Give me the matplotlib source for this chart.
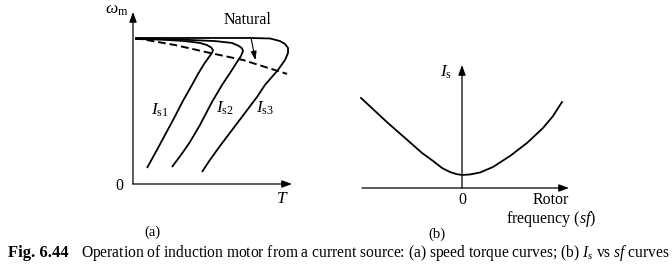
"""Speed-torque curves of an induction motor fed from a current source (Fig. 6.44)."""

import matplotlib
matplotlib.use("Agg")
import matplotlib.pyplot as plt

plt.rcParams["font.family"] = ["Liberation Serif", "DejaVu Serif"]
plt.rcParams["mathtext.fontset"] = "custom"
plt.rcParams["mathtext.rm"] = "Liberation Serif"
plt.rcParams["mathtext.it"] = "Liberation Serif:italic"

# (a) speed-torque curves, normalised T and omega_m
T_IS1 = [0.013, 0.170, 0.327, 0.421, 0.465, 0.491, 0.503, 0.497, 0.478, 0.447,
         0.409, 0.371, 0.314, 0.252, 0.201, 0.157, 0.119, 0.088]
W_IS1 = [0.843, 0.840, 0.831, 0.820, 0.808, 0.794, 0.779, 0.762, 0.738, 0.698,
         0.640, 0.576, 0.483, 0.372, 0.285, 0.209, 0.145, 0.093]
T_IS2 = [0.013, 0.296, 0.516, 0.623, 0.667, 0.686, 0.692, 0.679, 0.654, 0.610,
         0.560, 0.497, 0.421, 0.358, 0.302, 0.245]
W_IS2 = [0.843, 0.840, 0.831, 0.820, 0.802, 0.788, 0.773, 0.744, 0.709, 0.645,
         0.576, 0.477, 0.343, 0.244, 0.169, 0.099]
T_IS3 = [0.013, 0.421, 0.736, 0.862, 0.925, 0.956, 0.975, 0.975, 0.956, 0.912,
         0.830, 0.780, 0.704, 0.623, 0.547, 0.484, 0.434]
W_IS3 = [0.849, 0.849, 0.849, 0.846, 0.831, 0.814, 0.791, 0.762, 0.721, 0.663,
         0.576, 0.506, 0.413, 0.314, 0.221, 0.140, 0.070]
T_NAT = [0.013, 0.264, 0.484, 0.692, 0.969]
W_NAT = [0.849, 0.808, 0.762, 0.721, 0.640]

# (b) stator current vs rotor frequency
SF = [-1.01, -0.87, -0.74, -0.57, -0.40, -0.29, -0.20, -0.12, -0.06, 0.0,
      0.08, 0.18, 0.31, 0.48, 0.65, 0.81, 0.91, 1.00]
IS = [0.732, 0.626, 0.528, 0.407, 0.285, 0.220, 0.163, 0.130, 0.114, 0.106,
      0.110, 0.126, 0.171, 0.260, 0.366, 0.488, 0.585, 0.699]

W, H = 672, 268
LW = 1.3
fig = plt.figure(figsize=(W / 100, H / 100), dpi=100)
fig.patch.set_facecolor("white")

arrow = dict(arrowstyle="-|>,head_length=0.6,head_width=0.22", color="black",
             lw=0.9, shrinkA=0, shrinkB=0)

# ---- panel (a)
ax1 = fig.add_axes([133 / W, (H - 184) / H, 159 / W, 172 / H])
ax1.set_xlim(0, 1)
ax1.set_ylim(0, 1)
ax1.axis("off")
ax1.annotate("", xy=(1.0, 0), xytext=(0, 0), arrowprops=arrow,
             annotation_clip=False)
ax1.annotate("", xy=(0, 1.0), xytext=(0, 0), arrowprops=arrow,
             annotation_clip=False)
for t, w in ((T_IS1, W_IS1), (T_IS2, W_IS2), (T_IS3, W_IS3)):
    ax1.plot(t, w, color="black", lw=LW, solid_capstyle="butt",
             solid_joinstyle="round", clip_on=False)
ax1.plot(T_NAT, W_NAT, color="black", lw=1.4, dashes=(4, 2), clip_on=False)
ax1.annotate("Natural", xy=(0.77, 0.72), xytext=(0.72, 0.955),
             ha="center", va="center", fontsize=11.5,
             arrowprops=dict(arrowstyle="-|>,head_length=0.45,head_width=0.15",
                             color="black", lw=0.8, shrinkA=6, shrinkB=0),
             annotation_clip=False)
ax1.text(0.17, 0.43, r"$I_{\mathrm{s1}}$", fontsize=12.5, ha="center", va="center")
ax1.text(0.58, 0.44, r"$I_{\mathrm{s2}}$", fontsize=12.5, ha="center", va="center")
ax1.text(0.83, 0.44, r"$I_{\mathrm{s3}}$", fontsize=12.5, ha="center", va="center")
ax1.text(-0.085, -0.01, "0", fontsize=11.5, ha="center", va="center")
ax1.text(0.94, -0.09, r"$T$", fontsize=12.5, ha="center", va="center")
ax1.text(-0.10, 1.01, r"$\omega_{\mathrm{m}}$", fontsize=12.5, ha="center",
         va="center")
ax1.text(0.12, -0.28, "(a)", fontsize=10.5, ha="center", va="center")

# ---- panel (b)
ax2 = fig.add_axes([362 / W, (H - 188) / H, 207 / W, 123 / H])
ax2.set_xlim(-1.0, 1.07)
ax2.set_ylim(0, 1)
ax2.axis("off")
ax2.annotate("", xy=(1.07, 0), xytext=(-1.0, 0), arrowprops=arrow,
             annotation_clip=False)
ax2.annotate("", xy=(0, 1.0), xytext=(0, 0), arrowprops=arrow,
             annotation_clip=False)
ax2.plot(SF, IS, color="black", lw=LW, solid_joinstyle="round", clip_on=False)
ax2.text(0, -0.10, "0", fontsize=11.5, ha="center", va="center")
ax2.text(0.89, -0.035, "Rotor\nfrequency ($sf$)", fontsize=11.5, ha="center",
         va="top", multialignment="center", linespacing=1.05)
ax2.text(-0.16, 0.94, r"$I_{\mathrm{s}}$", fontsize=12.5, ha="center", va="center")
ax2.text(-0.25, -0.38, "(b)", fontsize=10.5, ha="center", va="center")

# ---- caption
fig.text(8 / W, 1 - 253 / H, "Fig. 6.44", fontsize=12, fontweight="bold",
         ha="left", va="center")
fig.text(81 / W, 1 - 253 / H,
         r"Operation of induction motor from a current source: (a) speed torque"
         r" curves; (b) $I_s$ vs $sf$ curves",
         fontsize=11.2, ha="left", va="center")

fig.savefig("out.png", dpi=100, facecolor="white")
